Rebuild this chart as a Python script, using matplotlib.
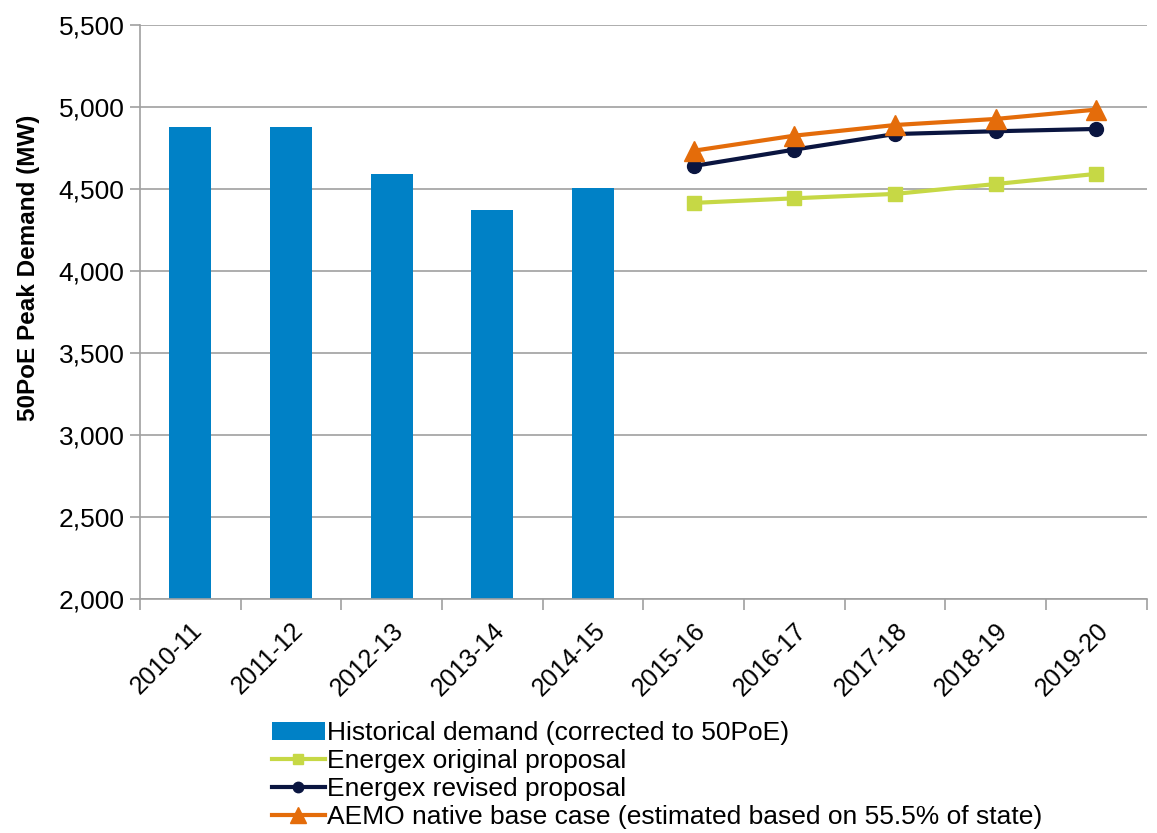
import numpy as np
import matplotlib.pyplot as plt

plt.rcParams['font.family'] = ['Liberation Sans', 'DejaVu Sans']

# Data
years = ['2010-11', '2011-12', '2012-13', '2013-14', '2014-15',
         '2015-16', '2016-17', '2017-18', '2018-19', '2019-20']
historical = [4880, 4880, 4590, 4372, 4508]
original = [4415, 4443, 4470, 4530, 4592]
revised = [4640, 4740, 4835, 4852, 4866]
aemo = [4733, 4825, 4890, 4927, 4984]

x_hist = np.arange(len(historical))
x_fc = np.arange(5, 5 + len(original))

fig = plt.figure(figsize=(11.57, 8.33), dpi=100)
ax = fig.add_axes([0.121, 0.281, 0.870, 0.689])

bars = ax.bar(x_hist, [v - 2000 for v in historical], bottom=2000, width=0.42,
              color='#0081C6', label='Historical demand (corrected to 50PoE)', zorder=2)
l1, = ax.plot(x_fc, original, color='#C6D845', lw=3, marker='s', ms=10,
              label='Energex original proposal', zorder=3)
l2, = ax.plot(x_fc, revised, color='#0A1540', lw=3, marker='o', ms=10,
              label='Energex revised proposal', zorder=4)
l3, = ax.plot(x_fc, aemo, color='#E46C0A', lw=3, marker='^', ms=15,
              label='AEMO native base case (estimated based on 55.5% of state)', zorder=5)

ax.set_xlim(-0.5, 9.5)
ax.set_ylim(2000, 5500)
ax.set_yticks(np.arange(2000, 5501, 500))
ax.set_yticklabels([f'{v:,}' for v in range(2000, 5501, 500)], fontsize=19)
ax.yaxis.grid(True, color='#A0A0A0', lw=1.2, zorder=0)
ax.set_axisbelow(True)

ax.set_xticks(np.arange(10))
ax.set_xticklabels(years, rotation=45, ha='right', rotation_mode='anchor', fontsize=18)
ax.tick_params(axis='x', which='major', length=0, pad=14)
ax.set_xticks(np.arange(-0.5, 10, 1), minor=True)
ax.tick_params(axis='x', which='minor', length=8, color='#A0A0A0', width=1.2)
ax.tick_params(axis='y', length=7, color='#A0A0A0', width=1.2, pad=4)

for s in ['top', 'right']:
    ax.spines[s].set_visible(False)
for s in ['left', 'bottom']:
    ax.spines[s].set_color('#A0A0A0')
    ax.spines[s].set_linewidth(1.2)

ax.set_ylabel('50PoE Peak Demand (MW)', fontsize=17.5, fontweight='bold')
ax.yaxis.set_label_coords(-0.099, 0.577)

fig.legend([bars, l1, l2, l3], [bars.get_label(), l1.get_label(), l2.get_label(), l3.get_label()],
           loc='upper left', bbox_to_anchor=(0.235, 0.134), frameon=False,
           fontsize=19, handlelength=2.0, handletextpad=0.1, labelspacing=0.15,
           borderaxespad=0, borderpad=0, markerscale=0.75)

fig.savefig('out.png', dpi=100)
